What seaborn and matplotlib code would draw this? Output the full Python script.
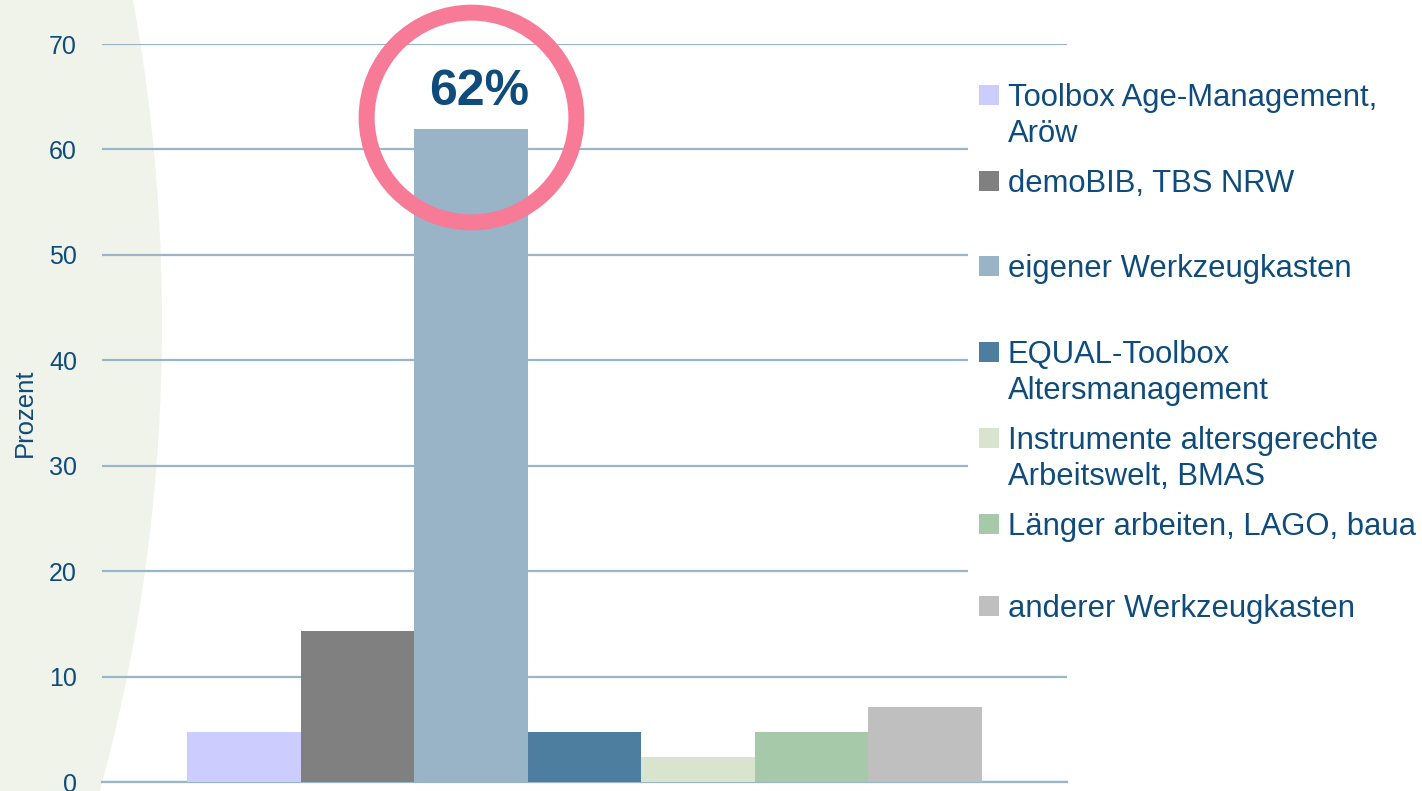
import pandas as pd
import seaborn as sns
import matplotlib
matplotlib.use('Agg')
from matplotlib import pyplot as plt
from matplotlib.patches import Ellipse, Rectangle

# Antworten (Anteil in Prozent, n = 42)
kategorien = [
    'Toolbox Age-Management,\nAröw',
    'demoBIB, TBS NRW',
    'eigener Werkzeugkasten',
    'EQUAL-Toolbox\nAltersmanagement',
    'Instrumente altersgerechte\nArbeitswelt, BMAS',
    'Länger arbeiten, LAGO, baua',
    'anderer Werkzeugkasten',
]
prozent = [4.76, 14.29, 61.90, 4.76, 2.38, 4.76, 7.14]
farben = ['#CCCCFF', '#808080', '#99B4C7', '#4D7EA0', '#D8E4CD', '#A6C9AA', '#BFBFBF']
yticks = [0, 10, 20, 30, 40, 50, 60, 70]
hervorhebung = '62%'

textfarbe = '#0F4C7C'
gitterfarbe = '#9AB5C8'

data = pd.DataFrame({'gruppe': ['alle'] * len(kategorien),
                     'kategorie': kategorien,
                     'prozent': prozent})

sns.set_style('white')
plt.rcParams['font.family'] = ['Liberation Sans', 'DejaVu Sans']

fig = plt.figure(figsize=(14.22, 7.91), dpi=100)
fig.patch.set_facecolor('white')

# heller Hintergrundbogen links
fig.add_artist(Ellipse((-600 / 1422, 468 / 791), 1524 / 1422, 2364 / 791,
                       transform=fig.transFigure, facecolor='#F0F3EA',
                       edgecolor='none', zorder=-5))

ax = fig.add_axes([102 / 1422, 9 / 791, 965 / 1422, 738 / 791])
ax.set_facecolor('none')

sns.barplot(data=data, x='gruppe', y='prozent', hue='kategorie',
            palette=farben, width=0.823, gap=0, dodge=True,
            saturation=1, legend=False, ax=ax, zorder=3, linewidth=0)

ax.set_xlim(-0.5, 0.5)
ax.set_ylim(0, 70)
ax.set_yticks(yticks)
ax.set_yticklabels([str(t) for t in yticks], fontsize=18, color=textfarbe)
ax.tick_params(axis='y', length=0, pad=18)
ax.set_xticks([-0.5, 0.5])
ax.set_xticklabels(['', ''])
ax.tick_params(axis='x', direction='out', length=9, width=1.5, color=gitterfarbe)
ax.set_xlabel('')
ax.set_ylabel('Prozent', fontsize=18.5, color=textfarbe)
ax.yaxis.set_label_coords(-0.067, 0.5)

ax.grid(axis='y', color=gitterfarbe, linewidth=1.6, zorder=0)
ax.set_axisbelow(True)
for side in ['left', 'right', 'top']:
    ax.spines[side].set_visible(False)
ax.spines['bottom'].set_color(gitterfarbe)
ax.spines['bottom'].set_linewidth(1.6)

# Hervorhebung des größten Balkens
bars = ax.patches
groesster = max(bars, key=lambda b: b.get_height())
xc = groesster.get_x() + groesster.get_width() / 2
ax.plot([xc], [groesster.get_height() + 1.2], marker='o', markersize=151,
        markerfacecolor='none', markeredgecolor='#F77A97', markeredgewidth=11.5,
        zorder=5, clip_on=False)
ax.text(xc + 0.008, groesster.get_height() + 3.5, hervorhebung, ha='center', va='center',
        fontsize=36, fontweight='bold', color=textfarbe, zorder=6)

# Legende rechts (weißer Kasten über den Gitterlinien)
fig.add_artist(Rectangle((968 / 1422, 1 - 650 / 791), (1422 - 968) / 1422, 590 / 791,
                         transform=fig.transFigure, facecolor='white',
                         edgecolor='none', zorder=4))
zeilen_y = [95, 181, 266, 352, 438, 524, 606]
for name, farbe, yp in zip(kategorien, farben, zeilen_y):
    fig.add_artist(Rectangle((979 / 1422, 1 - (yp + 10) / 791), 20 / 1422, 20 / 791,
                             transform=fig.transFigure, facecolor=farbe,
                             edgecolor='none', zorder=5))
    fig.text(1008 / 1422, 1 - (yp - 12) / 791, name, ha='left', va='top',
             fontsize=22.3, color=textfarbe, linespacing=1.25, zorder=6)

fig.savefig('out.png', dpi=100)
